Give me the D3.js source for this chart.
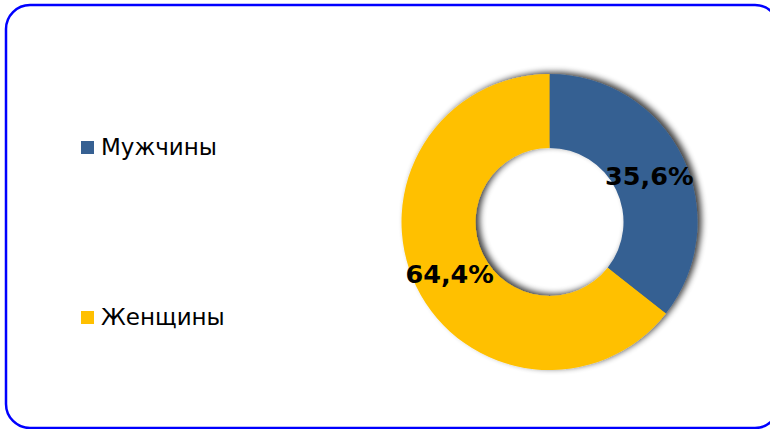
<!DOCTYPE html>
<html><head><meta charset="utf-8">
<script src="https://cdn.jsdelivr.net/npm/d3@7"></script>
<style>html,body{margin:0;padding:0;background:#fff;overflow:hidden}</style>
</head><body>
<svg id="chart" width="770" height="429"></svg>
<script>
const categories = ["Мужчины", "Женщины"];
const values = [35.6, 64.4];
const labels = ["35,6%", "64,4%"];
const colors = ["#366092", "#FFC000"];

const svg = d3.select("#chart");
const defs = svg.append("defs");
const f = defs.append("filter").attr("id","sh").attr("x","-20%").attr("y","-20%").attr("width","140%").attr("height","140%");
f.append("feGaussianBlur").attr("in","SourceAlpha").attr("stdDeviation",3).attr("result","b");
f.append("feOffset").attr("in","b").attr("dx",4).attr("dy",-2).attr("result","o");
f.append("feComponentTransfer").attr("in","o").attr("result","oo")
  .append("feFuncA").attr("type","linear").attr("slope",0.75);
const m = f.append("feMerge");
m.append("feMergeNode").attr("in","oo");
m.append("feMergeNode").attr("in","SourceGraphic");

svg.append("rect").attr("x",6).attr("y",5).attr("width",773).attr("height",423)
  .attr("rx",24).attr("ry",24).attr("fill","#fff").attr("stroke","#0000FF").attr("stroke-width",2.5);

const cx = 549.5, cy = 222, R = 148, r = 74;
const pie = d3.pie().sort(null).value(d => d);
const arcs = pie(values);
const arc = d3.arc().innerRadius(r).outerRadius(R);
const g = svg.append("g").attr("transform",`translate(${cx},${cy})`);
g.append("g").attr("filter","url(#sh)").selectAll("path").data(arcs).join("path")
  .attr("d", arc).attr("fill",(d,i)=>colors[i]);
g.selectAll("text").data(arcs).join("text")
  .attr("transform", d => { const c = arc.centroid(d); return `translate(${c[0]},${c[1]+3})`; })
  .attr("text-anchor","middle").attr("dominant-baseline","central")
  .attr("font-family","DejaVu Sans, Verdana, sans-serif").attr("font-weight","bold")
  .attr("font-size",25.5).attr("fill","#000")
  .text((d,i)=>labels[i]);

const ly = d3.scalePoint().domain(categories).range([147, 317]);
const lg = svg.append("g");
const items = lg.selectAll("g").data(categories).join("g")
  .attr("transform", d => `translate(81,${ly(d)})`);
items.append("rect").attr("x",0).attr("y",-6).attr("width",13).attr("height",13)
  .attr("fill",(d,i)=>colors[i]);
items.append("text").attr("x",20).attr("y",0).attr("dy","0.35em")
  .attr("font-family","DejaVu Sans, Verdana, sans-serif").attr("font-size",23).attr("fill","#000")
  .text(d=>d);
</script>
</body></html>
